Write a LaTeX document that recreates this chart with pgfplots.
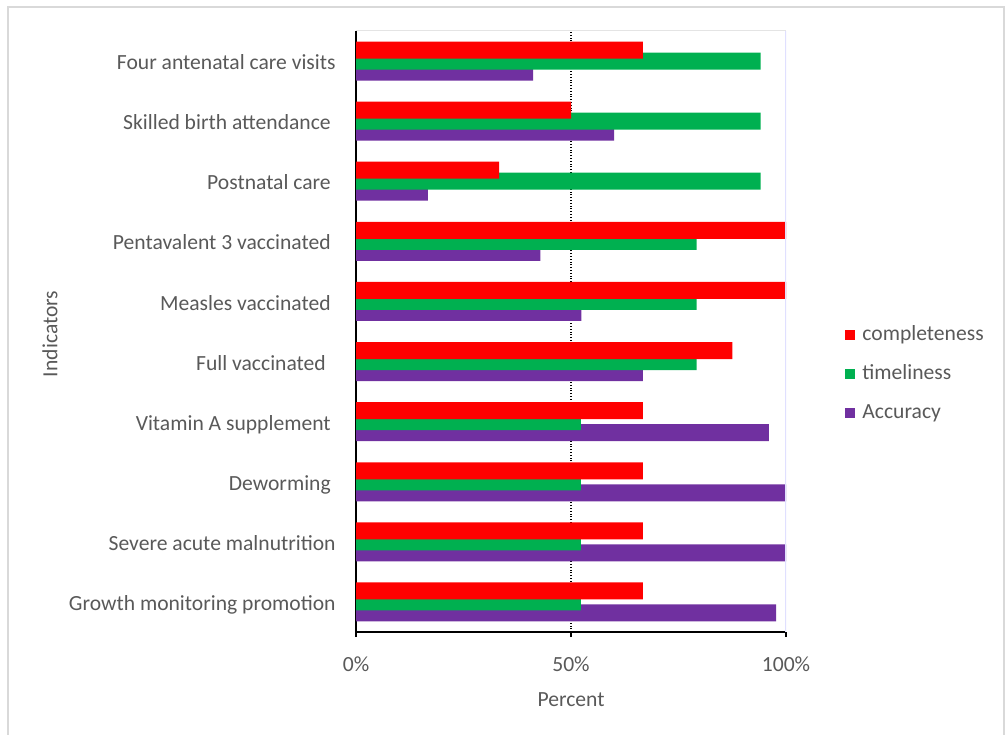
\documentclass[border=0pt]{standalone}
\usepackage{pgfplots}
\pgfplotsset{compat=1.18}
\usepackage{fontspec}
\setmainfont{Carlito}

\definecolor{cRed}{RGB}{255,0,0}
\definecolor{cGreen}{RGB}{0,176,80}
\definecolor{cPurple}{RGB}{112,48,160}
\definecolor{txt}{RGB}{89,89,89}
\definecolor{frame}{RGB}{217,217,217}

% y = 9 is the top category, y = 0 the bottom one
\pgfplotstableread{
y  completeness timeliness accuracy
9  66.7  94.1  41.2
8  50.0  94.1  60.0
7  33.3  94.1  16.7
6  100   79.2  42.9
5  100   79.2  52.4
4  87.5  79.2  66.7
3  66.7  52.3  96.0
2  66.7  52.3  100
1  66.7  52.3  100
0  66.7  52.3  97.7
}\indicators

\newcommand{\tsp}{\kern0.226em}
\newcommand{\chartfont}{\fontsize{10.8}{13}\selectfont}

\begin{document}
\chartfont
\begin{tikzpicture}
\useasboundingbox (0,0) rectangle (502.5pt,-367pt);
% outer chart frame
\draw[frame, line width=1pt] (4pt,-380pt) -- (4pt,-3.5pt) -- (502pt,-3.5pt) -- (502pt,-380pt);
\begin{axis}[
  at={(178pt,-316pt)}, anchor=south west,
  scale only axis, width=215pt, height=300.5pt,
  xbar, bar width=8.5pt,
  xmin=0, xmax=100,
  ymin=-0.5, ymax=9.5,
  axis x line*=bottom, axis y line*=left,
  axis line style={black, line width=0.9pt},
  x axis line style={-}, y axis line style={-},
  xtick={0,50,100},
  xticklabels={0\%,50\%,100\%},
  tick align=outside,
  xtick style={black, line width=0.8pt},
  major tick length=2.5pt,
  ytick={0,...,9},
  yticklabels={Growth monitoring promotion,
    Severe acute malnutrition,
    Deworming\tsp,
    Vitamin A supplement\tsp,
    Full vaccinated\tsp\tsp,
    Measles vaccinated\tsp,
    Pentavalent 3 vaccinated\tsp,
    Postnatal care\tsp,
    Skilled birth attendance\tsp,
    Four antenatal care visits},
  ytick style={draw=none},
  ticklabel style={text=txt, font=\chartfont},
  yticklabel style={anchor=base east, inner sep=0pt, xshift=-7.5pt, yshift=-4.3pt},
  xticklabel style={anchor=base, inner sep=0pt, yshift=-17pt},
  xlabel={Percent}, ylabel={Indicators},
  label style={text=txt, font=\chartfont},
  xlabel style={at={(axis description cs:0.5,-0.1243)}, anchor=base, inner sep=0pt},
  ylabel style={at={(axis description cs:-0.7116,0.496)}, anchor=center, inner sep=0pt},
  extra x ticks={50}, extra x tick labels={},
  extra x tick style={grid=major, major grid style={black, densely dotted, line width=0.8pt}, tick style={draw=none}},
  legend style={draw=none, fill=none, at={(axis description cs:1.1233,0.4293)}, anchor=west,
    font=\chartfont, text=txt,
    nodes={inner sep=0pt, text height=8pt, text depth=2.5pt}, row sep=9pt},
  legend cell align=left,
  reverse legend,
  legend image code/.code={\draw[#1, draw=none] (0pt,-2.5pt) rectangle (5pt,2.5pt);},
  /tikz/every odd column/.append style={column sep=3.5pt},
]
\addplot[fill=cPurple, draw=none, bar shift=-5.5pt] table[x=accuracy, y=y] {\indicators};
\addplot[fill=cGreen, draw=none, bar shift=0pt] table[x=timeliness, y=y] {\indicators};
\addplot[fill=cRed, draw=none, bar shift=5.5pt] table[x=completeness, y=y] {\indicators};
\legend{Accuracy, timeliness, completeness}
% faint top and right edges of the plot area
\draw[frame!70, line width=0.5pt] (rel axis cs:0,1) -- (rel axis cs:1,1);
\draw[blue!12, line width=0.8pt] (rel axis cs:1,0) -- (rel axis cs:1,1);
\end{axis}
\end{tikzpicture}
\end{document}
